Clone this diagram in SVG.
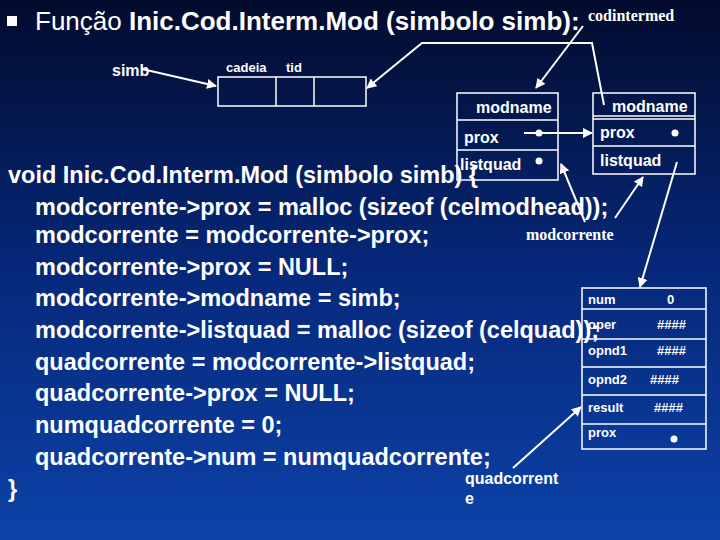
<svg xmlns="http://www.w3.org/2000/svg" width="720" height="540" viewBox="0 0 720 540">
<defs>
<linearGradient id="bg" x1="0" y1="0" x2="0" y2="1"><stop offset="0" stop-color="#020b2c"/><stop offset="0.5" stop-color="#06287a"/><stop offset="1" stop-color="#0c42a8"/></linearGradient>
<marker id="ah" viewBox="0 0 10 10" refX="9" refY="5" markerWidth="5" markerHeight="5" orient="auto"><path d="M0,0L10,5L0,10z" fill="#fff"/></marker>
<style>
text{fill:#fff;font-family:"Liberation Sans",Arial,sans-serif}
.code{font-size:23.5px;font-weight:bold}
.box{fill:none;stroke:#fff;stroke-width:1.5}
.ln{stroke:#fff;stroke-width:2;fill:none}
.lb{font-size:16px;font-weight:bold}
.sm{font-size:13px;font-weight:bold}
.ser{font-family:"Liberation Serif","Times New Roman",serif;font-weight:bold;font-size:16px}
</style>
</defs>
<rect width="720" height="540" fill="url(#bg)"/>
<g id="title">
<rect x="7" y="16" width="10" height="10" fill="#fff"/>
<text x="35" y="30" font-size="26">Função <tspan font-weight="bold">Inic.Cod.Interm.Mod (simbolo simb):</tspan></text>
<text x="588" y="21" class="ser">codintermed</text>
</g>
<g id="code" class="code">
<text x="8" y="183">void Inic.Cod.Interm.Mod (simbolo simb) {</text>
<text x="35" y="215">modcorrente-&gt;prox = malloc (sizeof (celmodhead));</text>
<text x="35" y="243">modcorrente = modcorrente-&gt;prox;</text>
<text x="35" y="275">modcorrente-&gt;prox = NULL;</text>
<text x="35" y="306">modcorrente-&gt;modname = simb;</text>
<text x="35" y="338">modcorrente-&gt;listquad = malloc (sizeof (celquad));</text>
<text x="35" y="370">quadcorrente = modcorrente-&gt;listquad;</text>
<text x="35" y="401">quadcorrente-&gt;prox = NULL;</text>
<text x="35" y="433">numquadcorrente = 0;</text>
<text x="35" y="465">quadcorrente-&gt;num = numquadcorrente;</text>
<text x="8" y="497">}</text>
</g>
<g id="simbtable">
<text x="112" y="76" class="lb">simb</text>
<text x="226" y="72" class="sm">cadeia</text>
<text x="286" y="72" class="sm">tid</text>
<rect x="218" y="77" width="148" height="29" class="box"/>
<line x1="276" y1="77" x2="276" y2="106" class="box"/>
<line x1="314" y1="77" x2="314" y2="106" class="box"/>
</g>
<g id="mod1">
<rect x="457" y="93" width="101" height="87" class="box"/>
<line x1="457" y1="120" x2="558" y2="120" class="box"/>
<line x1="457" y1="150" x2="558" y2="150" class="box"/>
<text x="476" y="113" class="lb">modname</text>
<text x="464" y="143" class="lb">prox</text>
<text x="460" y="170" class="lb">listquad</text>
<circle cx="539" cy="133" r="3.5" fill="#fff"/>
<circle cx="539" cy="161" r="3.5" fill="#fff"/>
</g>
<g id="mod2">
<rect x="593" y="93" width="102" height="81" class="box"/>
<line x1="593" y1="116" x2="695" y2="116" class="box"/>
<line x1="593" y1="119" x2="695" y2="119" class="box"/>
<line x1="593" y1="146" x2="695" y2="146" class="box"/>
<text x="612" y="112" class="lb">modname</text>
<text x="600" y="138" class="lb">prox</text>
<text x="600" y="166" class="lb">listquad</text>
<circle cx="675" cy="133" r="3.5" fill="#fff"/>
</g>
<g id="quad">
<rect x="582" y="288" width="124" height="161" class="box"/>
<line x1="582" y1="309" x2="706" y2="309" class="box"/>
<line x1="582" y1="339" x2="706" y2="339" class="box"/>
<line x1="582" y1="367" x2="706" y2="367" class="box"/>
<line x1="582" y1="395" x2="706" y2="395" class="box"/>
<line x1="582" y1="424" x2="706" y2="424" class="box"/>
<g class="sm">
<text x="588" y="304">num</text><text x="667" y="304">0</text>
<text x="588" y="329">oper</text><text x="657" y="329">####</text>
<text x="588" y="355">opnd1</text><text x="657" y="355">####</text>
<text x="588" y="384">opnd2</text><text x="650" y="384">####</text>
<text x="588" y="412">result</text><text x="654" y="412">####</text>
<text x="588" y="437">prox</text>
</g>
<circle cx="674" cy="439" r="3.5" fill="#fff"/>
</g>
<g id="labels">
<text x="526" y="240" class="ser">modcorrente</text>
<text x="465" y="484" class="lb">quadcorrent</text>
<text x="465" y="504" class="lb">e</text>
</g>
<g id="connectors">
<path d="M142,69L216,86" class="ln" marker-end="url(#ah)"/>
<path d="M604,105L592,43L422,43L367,88" class="ln" stroke-width="1.5" marker-end="url(#ah)"/>
<path d="M583,26L536,88" class="ln" marker-end="url(#ah)"/>
<path d="M524,133L592,133" class="ln" marker-end="url(#ah)"/>
<path d="M585,222L561,164" class="ln" marker-end="url(#ah)"/>
<path d="M615,218L643,177" class="ln" marker-end="url(#ah)"/>
<path d="M677,162L640,287" class="ln" marker-end="url(#ah)"/>
<path d="M513,468L581,407" class="ln" marker-end="url(#ah)"/>
</g>
</svg>
